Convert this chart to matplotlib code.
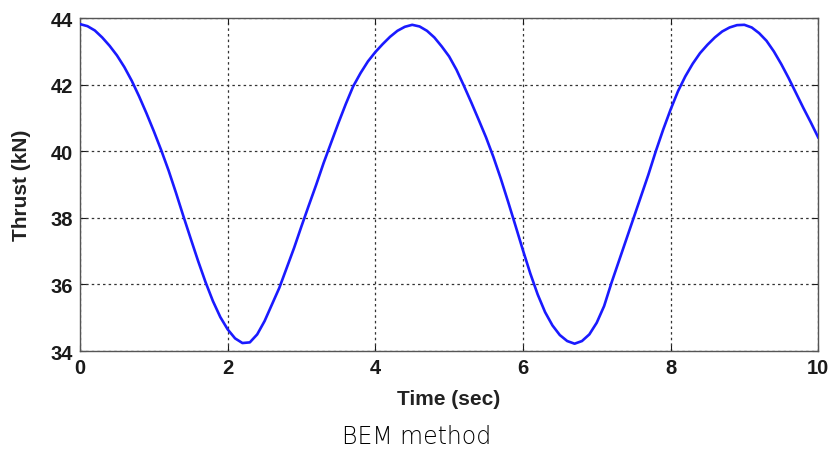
import numpy as np
import matplotlib.pyplot as plt

# thrust vs time (every 0.1 s)
time_s = np.round(np.arange(0, 10.01, 0.1), 1)
thrust_kn = [43.82, 43.76, 43.63, 43.42, 43.17, 42.88, 42.53, 42.12, 41.65, 41.14,
             40.6, 40.03, 39.42, 38.75, 38.05, 37.37, 36.7, 36.07, 35.5, 35.02,
             34.65, 34.38, 34.24, 34.26, 34.5, 34.9, 35.4, 35.9, 36.5, 37.1,
             37.75, 38.38, 39.0, 39.65, 40.25, 40.85, 41.42, 41.95, 42.35, 42.7,
             42.98, 43.22, 43.44, 43.62, 43.74, 43.8, 43.75, 43.62, 43.42, 43.15,
             42.85, 42.45, 41.97, 41.47, 40.95, 40.42, 39.83, 39.18, 38.48, 37.76,
             37.03, 36.33, 35.7, 35.17, 34.77, 34.48, 34.3, 34.22, 34.3, 34.5,
             34.85, 35.35, 36.05, 36.7, 37.35, 38.0, 38.65, 39.3, 40.0, 40.65,
             41.25, 41.8, 42.25, 42.63, 42.95, 43.2, 43.42, 43.6, 43.72, 43.79,
             43.8, 43.72, 43.55, 43.32, 43.0, 42.62, 42.2, 41.75, 41.3, 40.87,
             40.42]
xticks = [0, 2, 4, 6, 8, 10]
yticks = [34, 36, 38, 40, 42, 44]

plt.rcParams['font.family'] = ['Liberation Sans', 'DejaVu Sans']

fig = plt.figure(figsize=(8.34, 4.56), dpi=100)
ax = fig.add_axes([0.096, 0.228, 0.885, 0.73])

ax.plot(time_s, thrust_kn, color='#1a1aff', lw=1.9, zorder=3)

ax.set_xlim(0, 10)
ax.set_ylim(34, 44)
ax.set_xticks(xticks)
ax.set_yticks(yticks)
ax.grid(True, color='#333333', linestyle=(0, (2, 2.5)), lw=0.9)
ax.tick_params(direction='in', length=4, top=True, right=True,
               labelsize=14.5, colors='#1a1a1a', pad=5)
for lab in ax.get_xticklabels() + ax.get_yticklabels():
    lab.set_fontweight('bold')
for sp in ax.spines.values():
    sp.set_color('#555555')
    sp.set_linewidth(1.0)

ax.set_xlabel('Time (sec)', fontsize=15, fontweight='bold', color='#222222', labelpad=9)
ax.set_ylabel('Thrust (kN)', fontsize=15, fontweight='bold', color='#222222', labelpad=14)

fig.text(0.5, 0.042, 'BEM method', ha='center', va='center',
         fontsize=17, family=['DejaVu Sans'], fontweight='light', color='#000000')

fig.savefig('out.png', dpi=100, facecolor='white')
